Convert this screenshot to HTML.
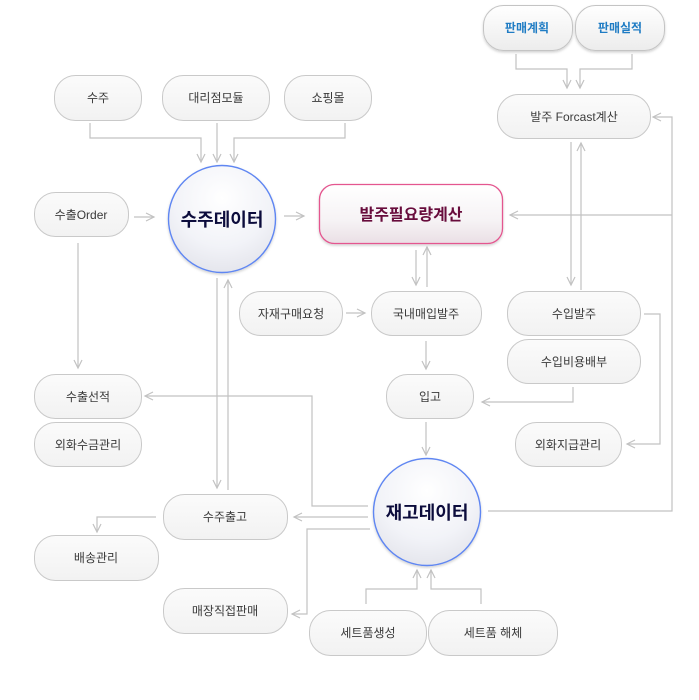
<!DOCTYPE html>
<html><head><meta charset="utf-8">
<style>
html,body{margin:0;padding:0;background:#fff;}
svg{display:block;}
text{font-family:"Liberation Sans","Noto Sans CJK KR",sans-serif;}
</style></head>
<body>
<svg width="699" height="700" viewBox="0 0 699 700" xmlns="http://www.w3.org/2000/svg">
<defs>
<linearGradient id="bx" x1="0" y1="0" x2="0" y2="1">
<stop offset="0" stop-color="#fbfbfb"/><stop offset="1" stop-color="#f2f2f2"/>
</linearGradient>
<linearGradient id="bb" x1="0" y1="0" x2="0" y2="1">
<stop offset="0" stop-color="#ffffff"/><stop offset="1" stop-color="#ececec"/>
</linearGradient>
<linearGradient id="pk" x1="0" y1="0" x2="0" y2="1">
<stop offset="0" stop-color="#ffffff"/><stop offset="0.6" stop-color="#f6f3f5"/><stop offset="1" stop-color="#eadfe5"/>
</linearGradient>
<radialGradient id="cg" cx="0.5" cy="0.3" r="0.75">
<stop offset="0" stop-color="#ffffff"/><stop offset="0.6" stop-color="#f2f3f8"/><stop offset="1" stop-color="#e2e3ea"/>
</radialGradient>
<filter id="sh" x="-20%" y="-20%" width="140%" height="150%">
<feDropShadow dx="0" dy="1.5" stdDeviation="1.2" flood-color="#000" flood-opacity="0.18"/>
</filter>
</defs>

<!-- connectors -->
<g fill="none" stroke="#c2c2c2" stroke-width="1.2">
<path d="M90,123 V138 H201 V162"/><polyline points="197,154 201,162 205,154"/>
<path d="M217,123 V162"/><polyline points="213,154 217,162 221,154"/>
<path d="M345,123 V138 H234 V162"/><polyline points="230,154 234,162 238,154"/>
<path d="M134,217 H154"/><polyline points="146,213 154,217 146,221"/>
<path d="M284,216 H304"/><polyline points="296,212 304,216 296,220"/>
<path d="M78,243 V368"/><polyline points="74,360 78,368 82,360"/>
<path d="M516,54 V69 H567 V88"/><polyline points="563,80 567,88 571,80"/>
<path d="M632,54 V69 H580 V88"/><polyline points="576,80 580,88 584,80"/>
<path d="M571,142 V285"/><polyline points="567,277 571,285 575,277"/>
<path d="M581,290 V143"/><polyline points="577,151 581,143 585,151"/>
<path d="M488,511 H672 V117 H653"/><polyline points="661,113 653,117 661,121"/>
<path d="M672,215 H510"/><polyline points="518,211 510,215 518,219"/>
<path d="M416,250 V285"/><polyline points="412,277 416,285 420,277"/>
<path d="M427,287 V247"/><polyline points="423,255 427,247 431,255"/>
<path d="M346,313 H365"/><polyline points="357,309 365,313 357,317"/>
<path d="M426,341 V369"/><polyline points="422,361 426,369 430,361"/>
<path d="M573,387 V402 H482"/><polyline points="490,398 482,402 490,406"/>
<path d="M644,314 H660 V444 H627"/><polyline points="635,440 627,444 635,448"/>
<path d="M426,422 V455"/><polyline points="422,447 426,455 430,447"/>
<path d="M368,506 H312 V396 H145"/><polyline points="153,392 145,396 153,400"/>
<path d="M368,517 H294"/><polyline points="302,513 294,517 302,521"/>
<path d="M370,529 H307 V614 H292"/><polyline points="300,610 292,614 300,618"/>
<path d="M366,604 V589 H417 V570"/><polyline points="413,578 417,570 421,578"/>
<path d="M481,604 V589 H431 V570"/><polyline points="427,578 431,570 435,578"/>
<path d="M217,278 V488"/><polyline points="213,480 217,488 221,480"/>
<path d="M228,490 V280"/><polyline points="224,288 228,280 232,288"/>
<path d="M156,517 H97 V532"/><polyline points="93,524 97,532 101,524"/>
</g>

<!-- boxes -->
<g stroke="#c9c9c9" stroke-width="1" fill="url(#bx)">
<rect x="54.5" y="75.5" width="87" height="45" rx="21"/>
<rect x="162.5" y="75.5" width="107" height="45" rx="21"/>
<rect x="284.5" y="75.5" width="87" height="45" rx="21"/>
<rect x="497.5" y="94.5" width="153" height="44" rx="21"/>
<rect x="34.5" y="192.5" width="94" height="44" rx="21"/>
<rect x="239.5" y="291.5" width="103" height="44" rx="21"/>
<rect x="371.5" y="291.5" width="110" height="44" rx="21"/>
<rect x="507.5" y="291.5" width="133" height="44" rx="21"/>
<rect x="507.5" y="339.5" width="133" height="44" rx="21"/>
<rect x="34.5" y="374.5" width="107" height="44" rx="21"/>
<rect x="34.5" y="422.5" width="107" height="44" rx="21"/>
<rect x="386.5" y="374.5" width="87" height="44" rx="21"/>
<rect x="515.5" y="422.5" width="106" height="44" rx="21"/>
<rect x="163.5" y="494.5" width="124" height="45" rx="21"/>
<rect x="34.5" y="535.5" width="124" height="45" rx="21"/>
<rect x="163.5" y="588.5" width="124" height="45" rx="21"/>
<rect x="309.5" y="610.5" width="117" height="45" rx="21"/>
<rect x="428.5" y="610.5" width="129" height="45" rx="21"/>
</g>
<g stroke="#c4c4c4" stroke-width="1" fill="url(#bb)" filter="url(#sh)">
<rect x="483.5" y="5.5" width="89" height="45" rx="20"/>
<rect x="575.5" y="5.5" width="89" height="45" rx="20"/>
</g>
<rect x="319.5" y="184.5" width="183" height="59" rx="15" fill="url(#pk)" stroke="#e4568f" stroke-width="1.3" filter="url(#sh)"/>
<circle cx="222" cy="219" r="53.5" fill="url(#cg)" stroke="#5f86f2" stroke-width="1.4" filter="url(#sh)"/>
<circle cx="427" cy="512" r="53.5" fill="url(#cg)" stroke="#5f86f2" stroke-width="1.4" filter="url(#sh)"/>

<!-- labels -->
<g font-size="12" fill="#3a3a3a" text-anchor="middle">
<text x="98" y="102">수주</text>
<text x="216" y="102">대리점모듈</text>
<text x="328" y="102">쇼핑몰</text>
<text x="574" y="121">발주 Forcast계산</text>
<text x="81" y="219">수출Order</text>
<text x="291" y="318">자재구매요청</text>
<text x="426" y="318">국내매입발주</text>
<text x="574" y="318">수입발주</text>
<text x="574" y="366">수입비용배부</text>
<text x="88" y="401">수출선적</text>
<text x="88" y="449">외화수금관리</text>
<text x="430" y="401">입고</text>
<text x="568" y="449">외화지급관리</text>
<text x="225" y="521">수주출고</text>
<text x="96" y="562">배송관리</text>
<text x="225" y="615">매장직접판매</text>
<text x="368" y="637">세트품생성</text>
<text x="493" y="637">세트품 해체</text>
</g>
<g font-size="12" font-weight="bold" fill="#1f7cc4" text-anchor="middle">
<text x="527" y="32">판매계획</text>
<text x="620" y="32">판매실적</text>
</g>
<text x="411" y="220" font-size="16" font-weight="bold" fill="#680c3c" text-anchor="middle">발주필요량계산</text>
<text x="222" y="226" font-size="18" font-weight="bold" fill="#0c0c3c" text-anchor="middle">수주데이터</text>
<text x="427" y="519" font-size="18" font-weight="bold" fill="#0c0c3c" text-anchor="middle">재고데이터</text>
</svg>
</body></html>
